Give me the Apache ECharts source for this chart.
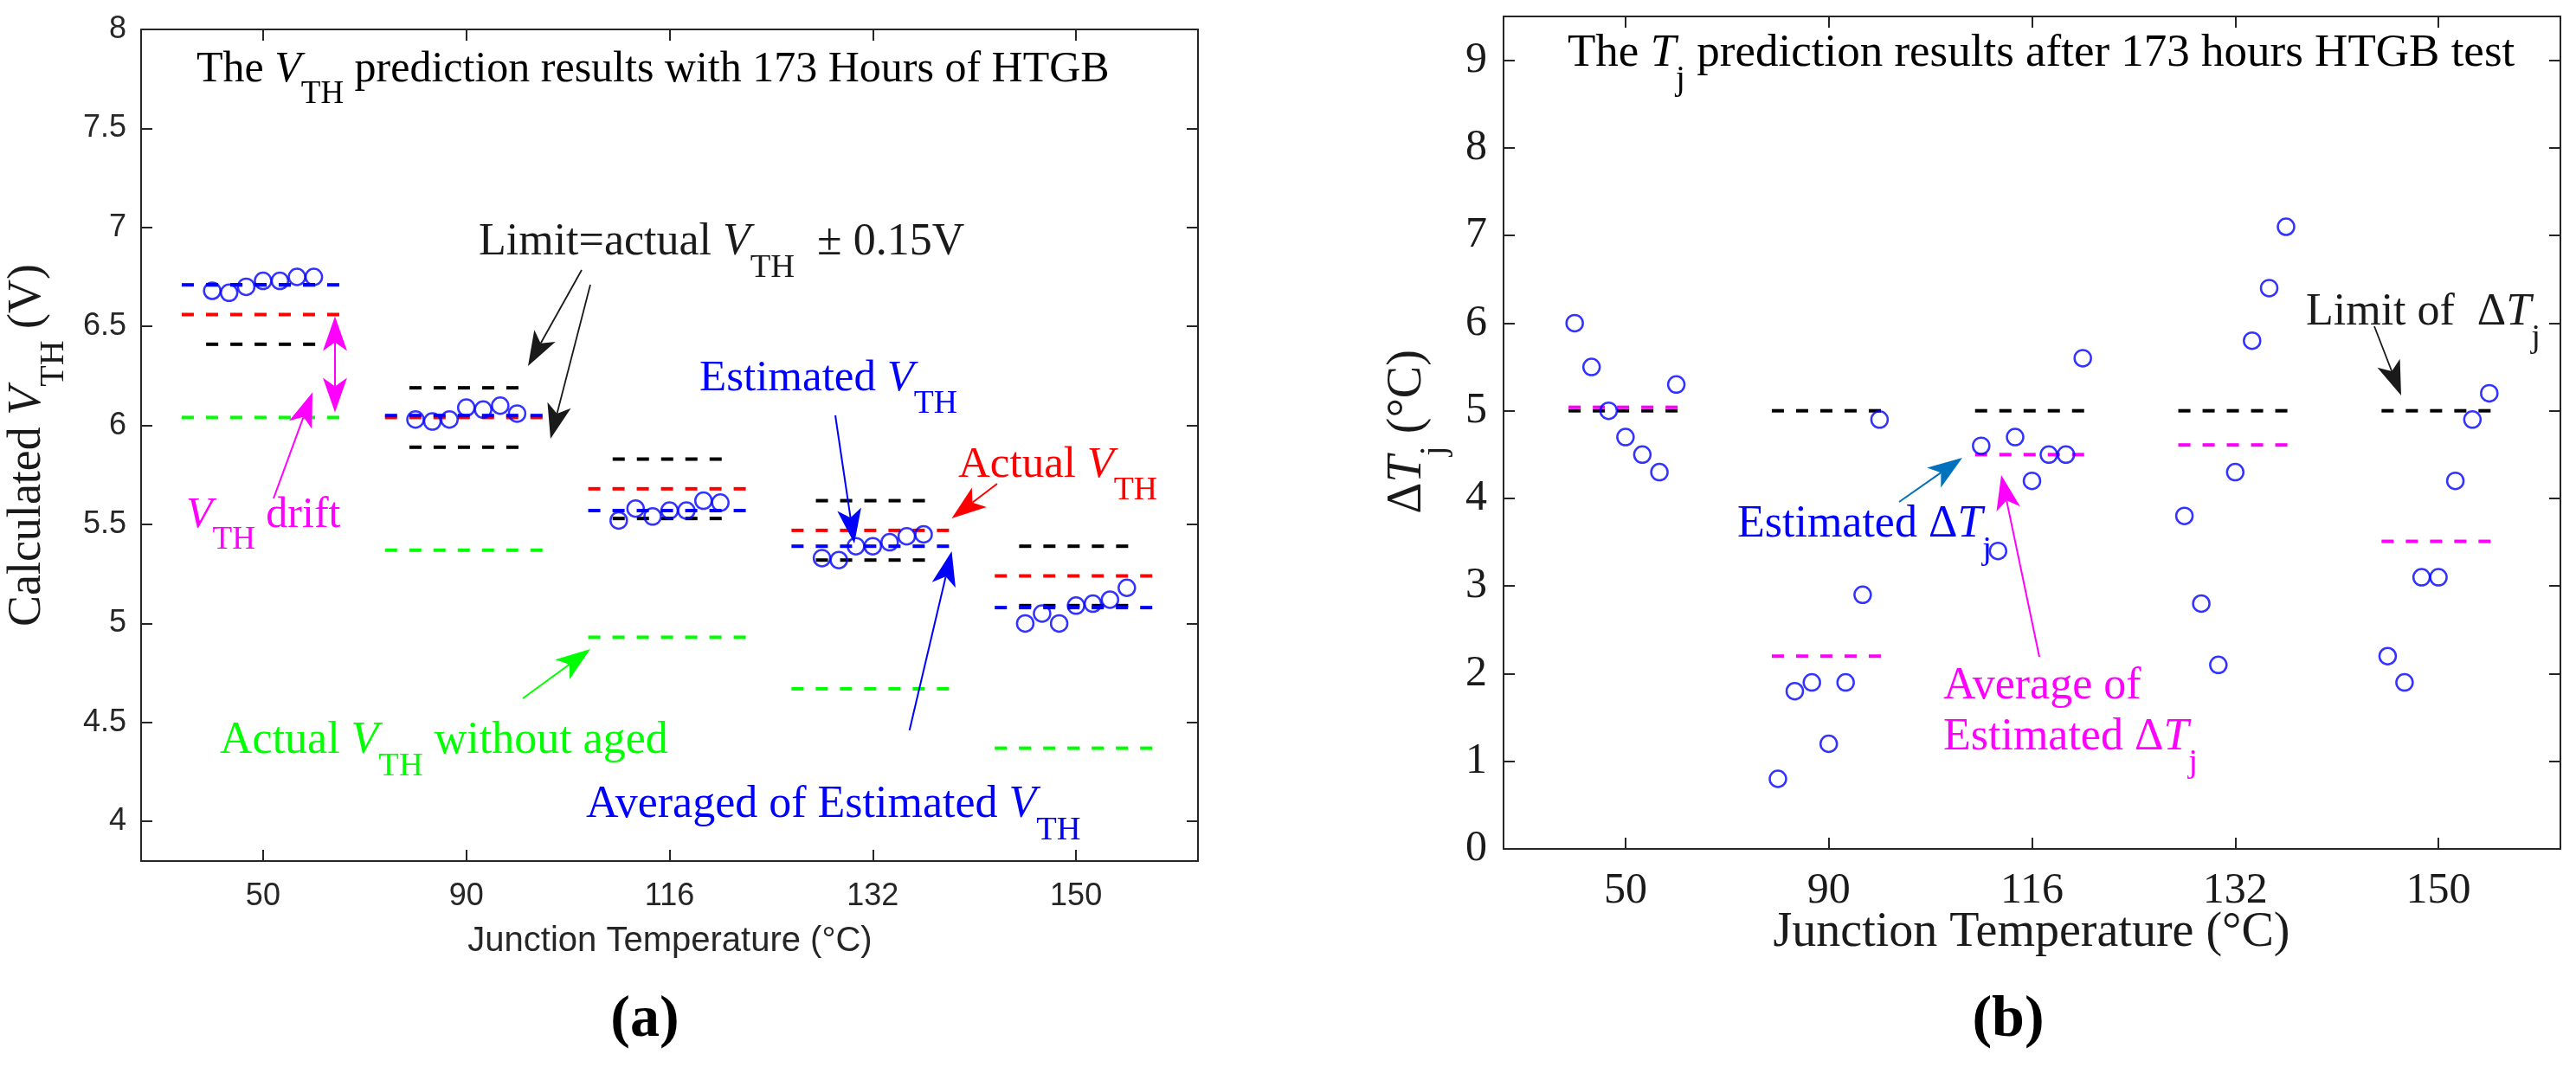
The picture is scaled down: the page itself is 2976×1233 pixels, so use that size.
<!DOCTYPE html>
<html>
<head>
<meta charset="utf-8">
<script src="https://cdn.jsdelivr.net/npm/echarts@6.0.0/dist/echarts.min.js"></script>
<style>
html, body { margin: 0; padding: 0; background: #fff; }
#main { width: 2976px; height: 1233px; }
</style>
</head>
<body>
<div id="main"></div>
<script>
// junction temperature groups (x axis positions 1..5)
var temps = ['50', '90', '116', '132', '150'];
var groupPos = [1, 2, 3, 4, 5];
var vthTicks = [4, 4.5, 5, 5.5, 6, 6.5, 7, 7.5, 8];
var dTjTicks = [0, 1, 2, 3, 4, 5, 6, 7, 8, 9];

// (a) V_TH, seven estimates per temperature
var vthEstimated = [
    [6.68, 6.67, 6.70, 6.73, 6.73, 6.75, 6.75],
    [6.03, 6.02, 6.03, 6.09, 6.08, 6.10, 6.06],
    [5.52, 5.58, 5.54, 5.57, 5.57, 5.62, 5.61],
    [5.33, 5.32, 5.39, 5.39, 5.41, 5.44, 5.45],
    [5.00, 5.05, 5.00, 5.09, 5.10, 5.12, 5.18]
];
var vthAverage = [6.71, 6.05, 5.57, 5.39, 5.08];
var vthActual = [6.56, 6.04, 5.68, 5.47, 5.24];
var vthUpper = [6.71, 6.19, 5.83, 5.62, 5.39];
var vthLower = [6.41, 5.89, 5.53, 5.32, 5.09];
var vthUnaged = [6.04, 5.37, 4.93, 4.67, 4.37];

// (b) delta Tj
var dTjEstimated = [
    [6.0, 5.5, 5.0, 4.7, 4.5, 4.3, 5.3],
    [0.8, 1.8, 1.9, 1.2, 1.9, 2.9, 4.9],
    [4.6, 3.4, 4.7, 4.2, 4.5, 4.5, 5.6],
    [3.8, 2.8, 2.1, 4.3, 5.8, 6.4, 7.1],
    [2.2, 1.9, 3.1, 3.1, 4.2, 4.9, 5.2]
];
var dTjAverage = [5.04, 2.2, 4.5, 4.61, 3.51];
var dTjLimit = [5, 5, 5, 5, 5];

var SERIF = "'Liberation Serif', 'Times New Roman', serif";
var SANS = "'Liberation Sans', Arial, sans-serif";
var AXIS = '#262626';
var spread = [-0.25, -0.167, -0.083, 0, 0.083, 0.167, 0.25];

var chartDom = document.getElementById('main');
var myChart = echarts.init(chartDom);

function xAxisOf(grid, pos, label) {
    return {
        type: 'value', gridIndex: grid, position: pos, min: 0.4, max: 5.6,
        splitLine: { show: false },
        axisLine: { onZero: false, lineStyle: { color: AXIS, width: 2 } },
        axisTick: { inside: true, length: 13, customValues: groupPos, lineStyle: { color: AXIS, width: 2 } },
        axisLabel: label ? Object.assign({
            customValues: groupPos,
            formatter: function (v) { return temps[Math.round(v) - 1]; }
        }, label) : { show: false }
    };
}

function yAxisOf(grid, pos, min, max, ticks, label) {
    return {
        type: 'value', gridIndex: grid, position: pos, min: min, max: max,
        splitLine: { show: false },
        axisLine: { onZero: false, lineStyle: { color: AXIS, width: 2 } },
        axisTick: { inside: true, length: 13, customValues: ticks, lineStyle: { color: AXIS, width: 2 } },
        axisLabel: label ? Object.assign({ customValues: ticks }, label) : { show: false }
    };
}

// short dashed horizontal segment at each temperature
function segSeries(xi, yi, values, half, color) {
    return {
        type: 'custom', xAxisIndex: xi, yAxisIndex: yi, silent: true, z: 2,
        data: values.map(function (v, i) { return [groupPos[i], v]; }),
        renderItem: function (params, api) {
            var c = api.value(0), v = api.value(1);
            var a = api.coord([c - half, v]);
            var b = api.coord([c + half, v]);
            return {
                type: 'line',
                shape: { x1: a[0], y1: a[1], x2: b[0], y2: b[1] },
                style: { stroke: color, lineWidth: 4, lineDash: [14, 14], fill: null }
            };
        }
    };
}

function dotSeries(xi, yi, groups) {
    var d = [];
    groups.forEach(function (g, i) {
        g.forEach(function (v, k) { d.push([groupPos[i] + spread[k], v]); });
    });
    return {
        type: 'scatter', xAxisIndex: xi, yAxisIndex: yi, silent: true, z: 5,
        data: d, symbol: 'circle', symbolSize: 19,
        itemStyle: { color: 'rgba(255,255,255,0)', borderColor: '#0000ff', borderWidth: 2.5 },
        emphasis: { disabled: true }
    };
}

// ---- annotation helpers (text with italic / subscript runs, arrows)
var mctx = document.createElement('canvas').getContext('2d');
function textWidth(t, font) { mctx.font = font; return mctx.measureText(t).width; }

function runs(list, x0, base, F, color, bold) {
    var els = [], x = x0;
    list.forEach(function (r) {
        var kind = r[1] || '';
        var size = kind === 's' ? F * 0.74 : F;
        var shift = kind === 's' ? F * 0.48 : 0;
        var font = (kind === 'i' ? 'italic ' : 'normal ') + (bold ? 'bold ' : 'normal ') + size.toFixed(1) + 'px ' + SERIF;
        els.push({
            type: 'text', x: x, y: base + shift - 0.34 * size, silent: true, z: 100,
            style: { text: r[0], font: font, fill: color, align: 'left', verticalAlign: 'middle' }
        });
        x += textWidth(r[0], font);
    });
    return { els: els, width: x - x0 };
}

function rotated(list, cx, cy, F, color) {
    var r = runs(list, 0, 0.34 * F, F, color);
    r.els.forEach(function (e) { e.x -= r.width / 2; });
    return { type: 'group', x: cx, y: cy, rotation: Math.PI / 2, children: r.els };
}

function plain(t, cx, base, F, family, color, bold) {
    return {
        type: 'text', x: cx, y: base - 0.34 * F, silent: true, z: 100,
        style: { text: t, font: (bold ? 'bold ' : '') + F + 'px ' + family, fill: color, align: 'center', verticalAlign: 'middle' }
    };
}

function arrow(x1, y1, x2, y2, color, w, both) {
    var L = 40, H = 14, N = 10;
    var dx = x2 - x1, dy = y2 - y1, d = Math.sqrt(dx * dx + dy * dy);
    var ux = dx / d, uy = dy / d, px = -uy, py = ux;
    function head(tx, ty, sx, sy) {
        return {
            type: 'polygon', silent: true, z: 100,
            shape: { points: [
                [tx, ty],
                [tx - sx * L + px * H, ty - sy * L + py * H],
                [tx - sx * (L - N), ty - sy * (L - N)],
                [tx - sx * L - px * H, ty - sy * L - py * H]
            ] },
            style: { fill: color }
        };
    }
    var els = [{
        type: 'line', silent: true, z: 100,
        shape: {
            x1: both ? x1 + ux * (L - N) : x1, y1: both ? y1 + uy * (L - N) : y1,
            x2: x2 - ux * (L - N), y2: y2 - uy * (L - N)
        },
        style: { stroke: color, lineWidth: w }
    }, head(x2, y2, ux, uy)];
    if (both) els.push(head(x1, y1, -ux, -uy));
    return els;
}

var graphics = [];
function add(el) { graphics = graphics.concat(el.els ? el.els : el); }

// panel (a) texts
add(runs([['The '], ['V', 'i'], ['TH', 's'], [' prediction results with 173 Hours of HTGB']], 227, 97.6, 50, '#000'));
add(runs([['Limit=actual '], ['V', 'i'], ['TH', 's'], ['  \u00b1 0.15V']], 553, 298.5, 52, '#1a1a1a'));
add(runs([['V', 'i'], ['TH', 's'], [' drift']], 215, 613, 50, '#ff00ff'));
add(runs([['Estimated '], ['V', 'i'], ['TH', 's']], 808, 455, 51, '#0000ff'));
add(runs([['Actual '], ['V', 'i'], ['TH', 's']], 1107, 555, 51, '#ff0000'));
add(runs([['Actual '], ['V', 'i'], ['TH', 's'], [' without aged']], 254, 874.5, 52, '#00ff00'));
add(runs([['Averaged of Estimated '], ['V', 'i'], ['TH', 's']], 677, 948.5, 52, '#0000ff'));
add(rotated([['Calculated '], ['V', 'i'], ['TH', 's'], [' (V)']], 31.6, 514.5, 54, '#1a1a1a'));
add(plain('Junction Temperature (\u00b0C)', 774, 1101.5, 40, SANS, AXIS));
add(plain('(a)', 745, 1203, 68, SERIF, '#000', true));

// panel (a) arrows
add(arrow(672, 312, 610, 423, '#1a1a1a', 1.8));
add(arrow(682, 329, 636, 507, '#1a1a1a', 1.8));
add(arrow(316, 576, 361, 453.5, '#ff00ff', 2));
add(arrow(387, 365.5, 387, 476.5, '#ff00ff', 2, true));
add(arrow(965, 480, 987, 628, '#0000ff', 2));
add(arrow(1152, 559, 1099.5, 599, '#ff0000', 2));
add(arrow(604, 807, 682, 750, '#00ff00', 2));
add(arrow(1050.7, 844, 1099.5, 637, '#0000ff', 2));

// panel (b) texts
add(runs([['The '], ['T', 'i'], ['j', 's'], [' prediction results after 173 hours HTGB test']], 1811, 80.4, 53, '#000'));
add(runs([['Limit of  \u0394'], ['T', 'i'], ['j', 's']], 2664, 379, 52, '#1a1a1a'));
add(runs([['Estimated \u0394'], ['T', 'i'], ['j', 's']], 2007, 624, 52, '#0000ff'));
add(runs([['Average of']], 2245, 811, 52, '#ff00ff'));
add(runs([['Estimated \u0394'], ['T', 'i'], ['j', 's']], 2245, 870, 52, '#ff00ff'));
add(rotated([['\u0394'], ['T', 'i'], ['j', 's'], [' (\u00b0C)']], 1626, 499, 56, '#1a1a1a'));
add(plain('Junction Temperature (\u00b0C)', 2347, 1097, 56, SERIF, '#1a1a1a'));
add(plain('(b)', 2320, 1203, 68, SERIF, '#000', true));

// panel (b) arrows
add(arrow(2743, 377, 2774, 457, '#1a1a1a', 1.8));
add(arrow(2194, 580, 2267, 529, '#0072bd', 2));
add(arrow(2356, 759, 2312, 549, '#ff00ff', 2));

var labelA = { margin: 23, color: AXIS, fontFamily: SANS, fontSize: 36 };
var labelAy = { margin: 17, color: AXIS, fontFamily: SANS, fontSize: 36 };
var labelB = { margin: 24, color: '#1a1a1a', fontFamily: SERIF, fontSize: 50 };
var labelBy = { margin: 19, color: '#1a1a1a', fontFamily: SERIF, fontSize: 50 };

var option = {
    backgroundColor: '#fff',
    animation: false,
    grid: [
        { left: 163, top: 34, width: 1221, height: 961 },
        { left: 1737, top: 19, width: 1221, height: 962 }
    ],
    xAxis: [
        xAxisOf(0, 'bottom', labelA),
        xAxisOf(0, 'top', null),
        xAxisOf(1, 'bottom', labelB),
        xAxisOf(1, 'top', null)
    ],
    yAxis: [
        yAxisOf(0, 'left', 3.8, 8, vthTicks, labelAy),
        yAxisOf(0, 'right', 3.8, 8, vthTicks, null),
        yAxisOf(1, 'left', 0, 9.5, dTjTicks, labelBy),
        yAxisOf(1, 'right', 0, 9.5, dTjTicks, null)
    ],
    series: [
        segSeries(0, 0, vthUpper, 0.28, '#000000'),
        segSeries(0, 0, vthLower, 0.28, '#000000'),
        segSeries(0, 0, vthUnaged, 0.4, '#00ff00'),
        segSeries(0, 0, vthActual, 0.4, '#ff0000'),
        segSeries(0, 0, vthAverage, 0.4, '#0000ff'),
        dotSeries(0, 0, vthEstimated),
        segSeries(2, 2, dTjLimit, 0.28, '#000000'),
        segSeries(2, 2, dTjAverage, 0.28, '#ff00ff'),
        dotSeries(2, 2, dTjEstimated)
    ],
    graphic: { elements: graphics }
};

option && myChart.setOption(option);
</script>
</body>
</html>
